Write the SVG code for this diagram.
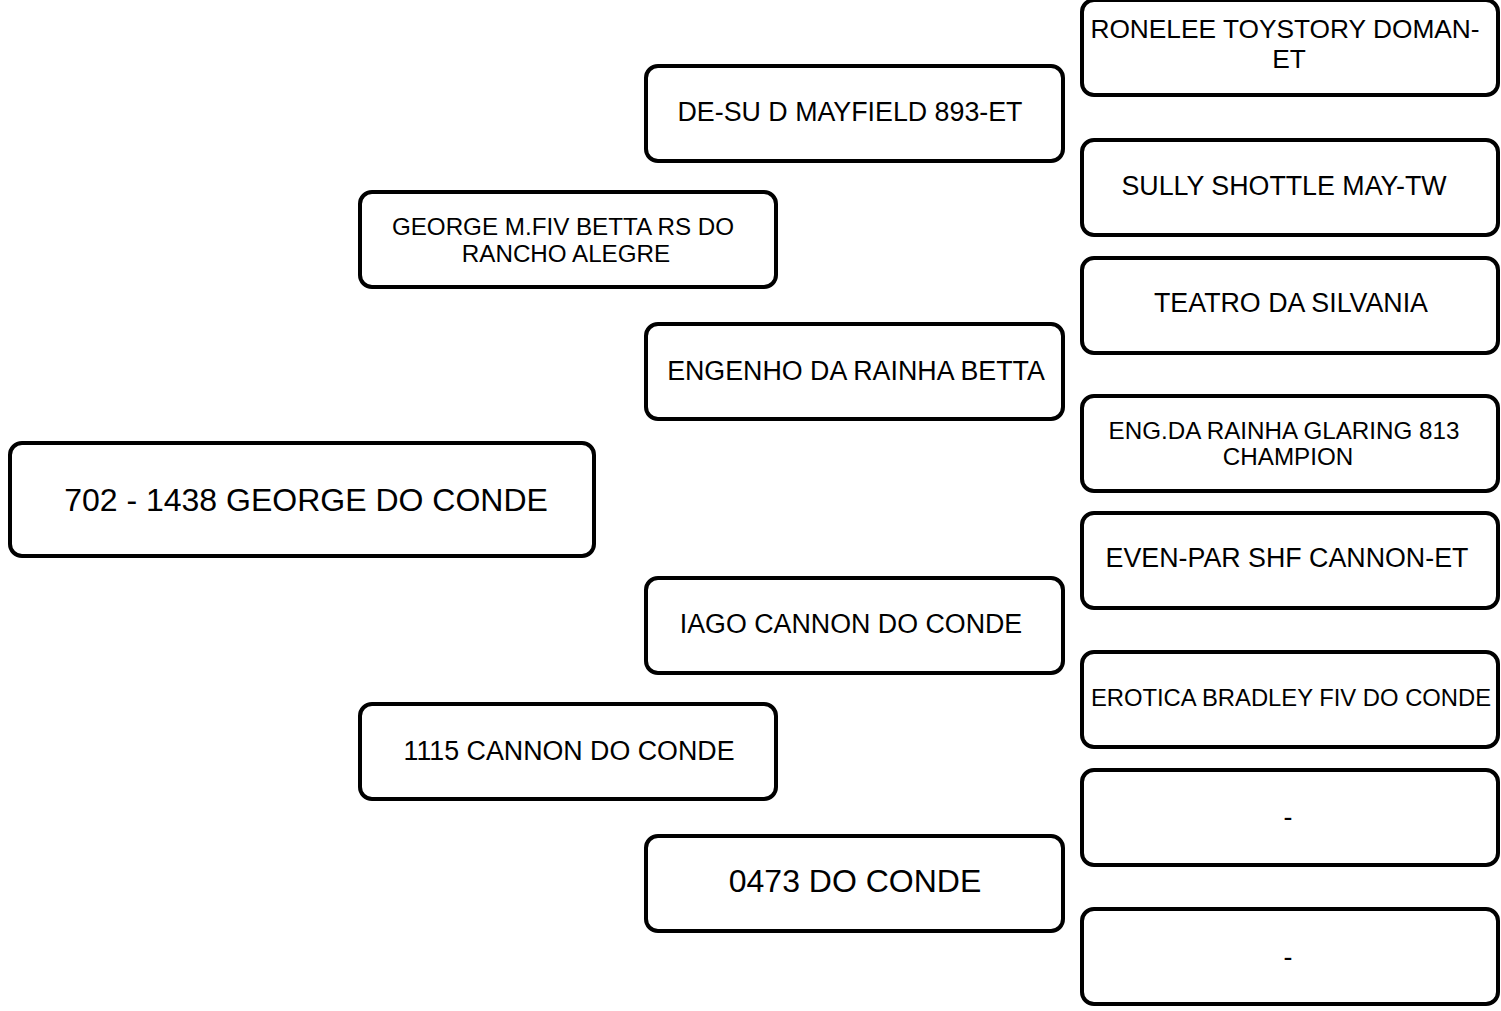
<svg xmlns="http://www.w3.org/2000/svg" width="1501" height="1011" viewBox="0 0 1501 1011">
<style>
.box{fill:#fff;stroke:#000;stroke-width:4}
text{font-family:"Liberation Sans",Arial,sans-serif;fill:#000;text-anchor:middle}
.s26{font-size:26.8px}
.s26b{font-size:26.3px}
.s24{font-size:24.2px}
.s23{font-size:23.8px}
.s31{font-size:32px}
</style>
<rect width="1501" height="1011" fill="#fff"/>
<g id="connectors"></g>
<g id="n-main"><rect class="box" x="10" y="443" width="584" height="113" rx="12"/><text class="s31" x="306" y="511">702 - 1438 GEORGE DO CONDE</text></g>
<g id="n-george"><rect class="box" x="360" y="192" width="416" height="95" rx="12"/><text class="s24" x="563" y="234.5">GEORGE M.FIV BETTA RS DO</text><text class="s24" x="566" y="261.5">RANCHO ALEGRE</text></g>
<g id="n-1115"><rect class="box" x="360" y="704" width="416" height="95" rx="12"/><text class="s26" x="569" y="760">1115 CANNON DO CONDE</text></g>
<g id="n-desu"><rect class="box" x="646" y="66" width="417" height="95" rx="12"/><text class="s26" x="850" y="121">DE-SU D MAYFIELD 893-ET</text></g>
<g id="n-engenho"><rect class="box" x="646" y="324" width="417" height="95" rx="12"/><text class="s26" x="856" y="380">ENGENHO DA RAINHA BETTA</text></g>
<g id="n-iago"><rect class="box" x="646" y="578" width="417" height="95" rx="12"/><text class="s26" x="851" y="633">IAGO CANNON DO CONDE</text></g>
<g id="n-0473"><rect class="box" x="646" y="836" width="417" height="95" rx="12"/><text class="s31" x="855" y="892">0473 DO CONDE</text></g>
<g id="n-ronelee"><rect class="box" x="1082" y="0" width="416" height="95" rx="12"/><text class="s26b" x="1285" y="38">RONELEE TOYSTORY DOMAN-</text><text class="s26b" x="1289" y="68">ET</text></g>
<g id="n-sully"><rect class="box" x="1082" y="140" width="416" height="95" rx="12"/><text class="s26" x="1284" y="194.5">SULLY SHOTTLE MAY-TW</text></g>
<g id="n-teatro"><rect class="box" x="1082" y="258" width="416" height="95" rx="12"/><text class="s26" x="1291" y="312">TEATRO DA SILVANIA</text></g>
<g id="n-engda"><rect class="box" x="1082" y="396" width="416" height="95" rx="12"/><text class="s24" x="1284" y="438.5">ENG.DA RAINHA GLARING 813</text><text class="s24" x="1288" y="464.5">CHAMPION</text></g>
<g id="n-evenpar"><rect class="box" x="1082" y="513" width="416" height="95" rx="12"/><text class="s26" x="1287" y="567">EVEN-PAR SHF CANNON-ET</text></g>
<g id="n-erotica"><rect class="box" x="1082" y="652" width="416" height="95" rx="12"/><text class="s23" x="1291" y="705.5">EROTICA BRADLEY FIV DO CONDE</text></g>
<g id="n-dash1"><rect class="box" x="1082" y="770" width="416" height="95" rx="12"/><text class="s26" x="1288" y="826">-</text></g>
<g id="n-dash2"><rect class="box" x="1082" y="909" width="416" height="95" rx="12"/><text class="s26" x="1288" y="966">-</text></g>
</svg>
